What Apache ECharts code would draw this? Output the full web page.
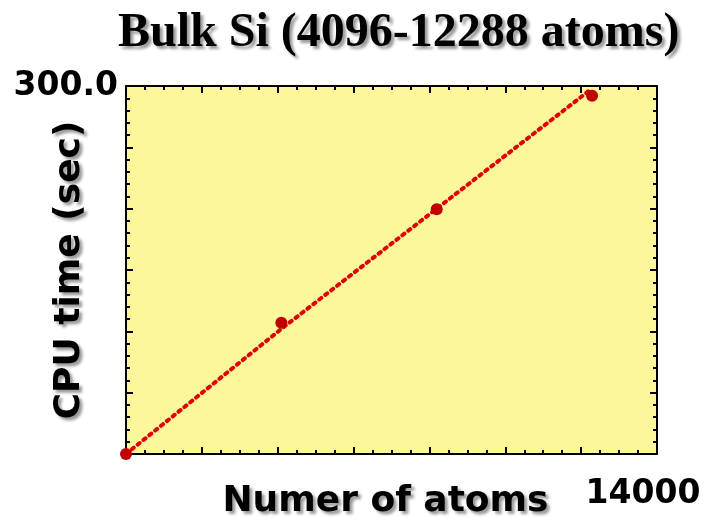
<!DOCTYPE html>
<html>
<head>
<meta charset="utf-8">
<script src="https://cdn.jsdelivr.net/npm/echarts@6/dist/echarts.min.js"></script>
<style>
  html, body { margin: 0; padding: 0; background: #fff; }
  #chart { width: 707px; height: 522px; }
</style>
</head>
<body>
<div id="chart"></div>
<script>
// Scaling data: CPU time vs. number of atoms for bulk Si
const atoms   = [0, 4096, 8192, 12288];
const cpuTime = [0, 107, 199.5, 292];
// linear trend line drawn through the runs
const trendAtoms = [0, 4096, 8192, 12288];
const trendTime  = [0, 102, 200, 298];

const xMin = 0, xMax = 14000, xStep = 2000;
const yMin = 0, yMax = 300, yStep = 50;
const xTickLabel = '14000';
const yTickLabel = '300.0';

const titleText = 'Bulk Si (4096-12288 atoms)';
const xName = 'Numer of atoms';
const yName = 'CPU time (sec)';

const shadow = {
  textShadowColor: 'rgba(0,0,0,0.4)',
  textShadowOffsetX: 3,
  textShadowOffsetY: 3,
  textShadowBlur: 3
};
const sans = '"DejaVu Sans", sans-serif';
const tickStyle = { color: '#000', width: 2 };

function frameAxis(extra) {
  return Object.assign({
    type: 'value',
    nameMoveOverlap: false,
    axisLine: { show: true, onZero: false, lineStyle: { color: '#000', width: 2 } },
    axisTick: { show: true, inside: true, length: 7, lineStyle: tickStyle },
    minorTick: { show: true, length: 4, lineStyle: tickStyle },
    splitLine: { show: false },
    minorSplitLine: { show: false }
  }, extra);
}

const chart = echarts.init(document.getElementById('chart'), null, { renderer: 'canvas' });
chart.setOption({
  animation: false,
  backgroundColor: '#fff',
  title: {
    text: titleText,
    left: 113,
    top: 5,
    textStyle: Object.assign({
      fontFamily: '"Liberation Serif", "Times New Roman", serif',
      fontWeight: 'bold',
      fontSize: 48,
      color: '#000'
    }, shadow)
  },
  grid: {
    left: 126, right: 50, top: 86, bottom: 68,
    containLabel: false,
    outerBoundsMode: 'none',
    show: true, backgroundColor: '#fcf79a', borderWidth: 0
  },
  xAxis: [
    frameAxis({
      position: 'bottom', min: xMin, max: xMax, interval: xStep,
      minorTick: { show: true, splitNumber: 4, length: 4, lineStyle: tickStyle },
      axisLabel: {
        showMaxLabel: true,
        formatter: v => (v === xMax ? xTickLabel : ''),
        margin: 24,
        padding: [0, 28, 0, 0],
        fontFamily: sans, fontWeight: 'bold', fontSize: 33, color: '#000'
      },
      name: xName, nameLocation: 'middle', nameGap: 30,
      nameTextStyle: Object.assign({
        fontFamily: sans, fontWeight: 'bold', fontSize: 36, color: '#000',
        verticalAlign: 'top', padding: [0, 12, 0, 0]
      }, shadow)
    }),
    frameAxis({
      position: 'top', min: xMin, max: xMax, interval: xStep,
      minorTick: { show: true, splitNumber: 4, length: 4, lineStyle: tickStyle },
      axisLabel: { show: false }
    })
  ],
  yAxis: [
    frameAxis({
      position: 'left', min: yMin, max: yMax, interval: yStep,
      minorTick: { show: true, splitNumber: 5, length: 4, lineStyle: tickStyle },
      axisLabel: {
        showMaxLabel: true,
        formatter: v => (v === yMax ? yTickLabel : ''),
        margin: 8,
        padding: [0, 0, 20, 0],
        fontFamily: sans, fontWeight: 'bold', fontSize: 33, color: '#000'
      },
      name: yName, nameLocation: 'middle', nameGap: 38, nameRotate: 90,
      nameTextStyle: Object.assign({
        fontFamily: sans, fontWeight: 'bold', fontSize: 36, color: '#000'
      }, shadow)
    }),
    frameAxis({
      position: 'right', min: yMin, max: yMax, interval: yStep,
      minorTick: { show: true, splitNumber: 5, length: 4, lineStyle: tickStyle },
      axisLabel: { show: false }
    })
  ],
  series: [
    {
      type: 'line',
      data: trendAtoms.map((a, i) => [a, trendTime[i]]),
      showSymbol: false,
      lineStyle: { color: '#e00000', width: 4, type: [2.5, 5], cap: 'round' },
      z: 2
    },
    {
      type: 'scatter',
      data: atoms.map((a, i) => [a, cpuTime[i]]),
      symbol: 'circle',
      symbolSize: 12,
      itemStyle: { color: '#c00000', opacity: 1 },
      z: 3
    }
  ]
});
</script>
</body>
</html>
